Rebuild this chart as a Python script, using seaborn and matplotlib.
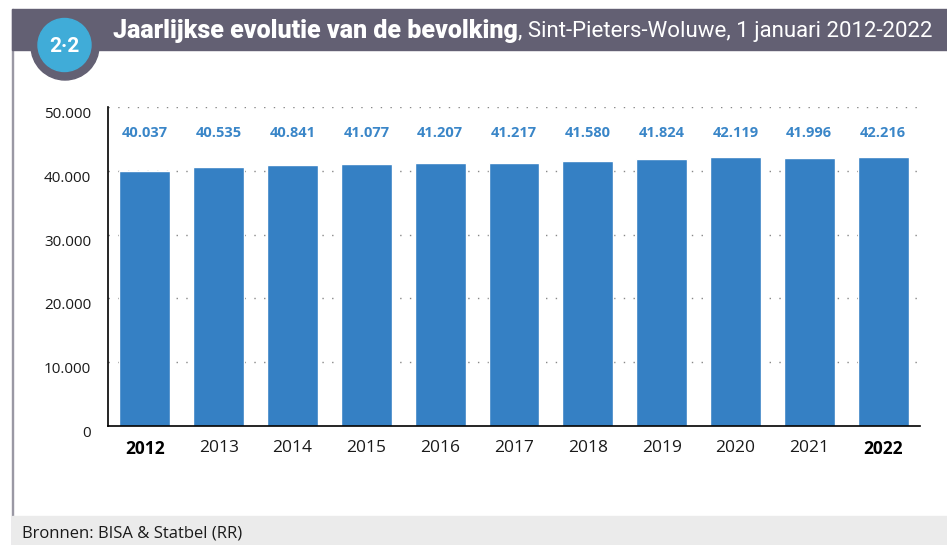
import matplotlib
matplotlib.use("Agg")
import matplotlib.pyplot as plt
from matplotlib.patches import Rectangle, Circle
import seaborn as sns
import pandas as pd

# data
jaren = ["2012", "2013", "2014", "2015", "2016", "2017", "2018", "2019", "2020", "2021", "2022"]
bevolking = [40037, 40535, 40841, 41077, 41207, 41217, 41580, 41824, 42119, 41996, 42216]
y_ticks = [0, 10000, 20000, 30000, 40000, 50000]

titel_vet = "Jaarlijkse evolutie van de bevolking"
titel_rest = ", Sint-Pieters-Woluwe, 1 januari 2012-2022"
bron = "Bronnen: BISA & Statbel (RR)"

def fmt(v):
    return f"{v:,}".replace(",", ".")

sns.set_style("white")
plt.rcParams["font.family"] = ["Open Sans", "DejaVu Sans"]

df = pd.DataFrame({"jaar": jaren, "inwoners": bevolking})

W, H = 947, 545
fig = plt.figure(figsize=(W / 100, H / 100), dpi=100)
ax = fig.add_axes([108 / W, 1 - 426 / H, (920 - 108) / W, (426 - 107) / H])

sns.barplot(data=df, x="jaar", y="inwoners", color="#3580c4", saturation=1,
            width=0.69, ax=ax)

ax.set_xlim(-0.5, 10.5)
ax.set_ylim(0, 50000)
ax.set_yticks(y_ticks)
ax.set_yticklabels([fmt(t) for t in y_ticks], fontsize=11, color="#1a1a1a")
ax.set_xlabel("")
ax.set_ylabel("")
ax.tick_params(axis="both", length=0)
ax.tick_params(axis="x", pad=10)
ax.tick_params(axis="y", pad=12)
for lbl in ax.get_xticklabels():
    lbl.set_fontsize(12.5)
    lbl.set_color("#1a1a1a")
    if lbl.get_text() in ("2012", "2022"):
        lbl.set_fontweight("bold")
        lbl.set_color("black")
for lbl in ax.get_yticklabels():
    lbl.set_verticalalignment("top")

for t in y_ticks[1:]:
    ax.axhline(t, color="#888888", lw=1, ls=(0, (1, 6)), zorder=0)

sns.despine(ax=ax, top=True, right=True)
ax.spines["left"].set_color("black")
ax.spines["bottom"].set_color("black")
ax.spines["left"].set_linewidth(1.2)
ax.spines["bottom"].set_linewidth(1.2)

for i, v in enumerate(bevolking):
    ax.text(i, 46000, fmt(v), ha="center", va="center", fontsize=10.5,
            fontweight="bold", color="#3a86c8")

# overlay in pixel coordinates for frame, header, badge and footer
ov = fig.add_axes([0, 0, 1, 1], facecolor="none")
ov.set_xlim(0, W)
ov.set_ylim(H, 0)
ov.axis("off")
ov.set_zorder(5)

ov.add_patch(Rectangle((11.5, 9), 1.8, H - 9, color="#9a98a4", zorder=1))
ov.add_patch(Rectangle((11.5, 516), W - 11.5, 29, color="#ebebeb", zorder=1))
ov.add_patch(Rectangle((11.5, 9), W - 11.5, 41, color="#636073", zorder=2))
ov.add_patch(Circle((65, 46), 34, color="#636073", zorder=3))
ov.add_patch(Circle((64.5, 45), 26.5, color="#40acd8", zorder=4))
ov.text(64.5, 47, "2·2", ha="center", va="center", color="white", fontsize=15,
        fontweight="bold", family=["Roboto", "DejaVu Sans"], zorder=5)

t1 = ov.text(113, 31, titel_vet, ha="left", va="center", color="white",
             fontsize=18, fontweight="heavy", family=["Roboto", "DejaVu Sans"], zorder=5)
fig.canvas.draw()
bb = t1.get_window_extent(fig.canvas.get_renderer())
x_end = ov.transData.inverted().transform((bb.x1, bb.y1))[0]
ov.text(x_end, 32, titel_rest, ha="left", va="center", color="white",
        fontsize=16, family=["Roboto", "DejaVu Sans"], zorder=5)

ov.text(22, 534, bron, ha="left", va="center", color="#1a1a1a", fontsize=12, zorder=5)

fig.savefig("out.png", dpi=100)
